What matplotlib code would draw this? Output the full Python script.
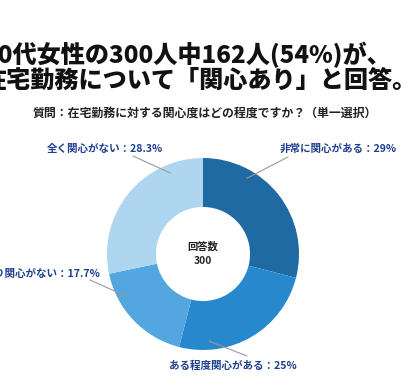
import numpy as np
import matplotlib
matplotlib.use('Agg')
import matplotlib.pyplot as plt

plt.rcParams['font.family'] = ['Noto Sans CJK JP', 'DejaVu Sans']

# data
labels = ['非常に関心がある', 'ある程度関心がある', 'あまり関心がない', '全く関心がない']
values = [29, 25, 17.7, 28.3]
value_text = ['29%', '25%', '17.7%', '28.3%']
colors = ['#1f6aa3', '#2788cd', '#53a6e0', '#afd6f0']
total = 300

title_1 = '20代女性の300人中162人(54%)が、'
title_2 = '在宅勤務について「関心あり」と回答。'
question = '質問：在宅勤務に対する関心度はどの程度ですか？（単一選択）'

W, H = 420, 390
fig = plt.figure(figsize=(W / 100, H / 100), dpi=100)
fig.patch.set_facecolor('white')

# donut, centre (203, 254) px, radius 96 px
cx, cy, R = 203, 254, 96
ax = fig.add_axes([(cx - R) / W, (H - cy - R) / H, 2 * R / W, 2 * R / H])
ax.pie(values, colors=colors, startangle=90, counterclock=False,
       radius=1, wedgeprops=dict(width=0.51, linewidth=0))
ax.set_xlim(-1, 1)
ax.set_ylim(-1, 1)
ax.axis('off')

ax.text(0, 0, f'回答数\n{total}', ha='center', va='center', fontsize=7.4,
        fontweight='bold', color='#222222', linespacing=1.5)

# labels with leader lines (angle on ring, label anchor in px from top)
navy = '#1d3f8f'
leader = [
    (60, (288, 157), (338, 149), 'center'),
    (274, (247, 356), (233, 366), 'center'),
    (209, (90, 280), (100, 274), 'right'),
    (112, (133, 156), (105, 149), 'center'),
]
for lab, vt, (ang, end, pos, ha) in zip(labels, value_text, leader):
    a = np.deg2rad(ang)
    ax.annotate('', xy=(0.91 * np.cos(a), 0.91 * np.sin(a)), xycoords='data',
                xytext=(end[0], H - end[1]), textcoords='figure pixels',
                arrowprops=dict(arrowstyle='-', color='#9a9a9a', lw=0.8,
                                shrinkA=0, shrinkB=0), annotation_clip=False)
    fig.text(pos[0] / W, 1 - pos[1] / H, f'{lab}：{vt}', ha=ha, va='center',
             fontsize=7.6, fontweight='bold', color=navy)

# titles (cropped at the left edge, as in the reference)
fig.text(-17 / W, 1 - 55 / H, title_1, ha='left', va='center', fontsize=17.4,
         fontweight='heavy', color='#111111')
fig.text(-17 / W, 1 - 81 / H, title_2, ha='left', va='center', fontsize=17.4,
         fontweight='heavy', color='#111111')
fig.text(205 / W, 1 - 113 / H, question, ha='center', va='center', fontsize=8.6,
         fontweight='bold', color='#222222')

fig.savefig('out.png', dpi=100, facecolor='white')
